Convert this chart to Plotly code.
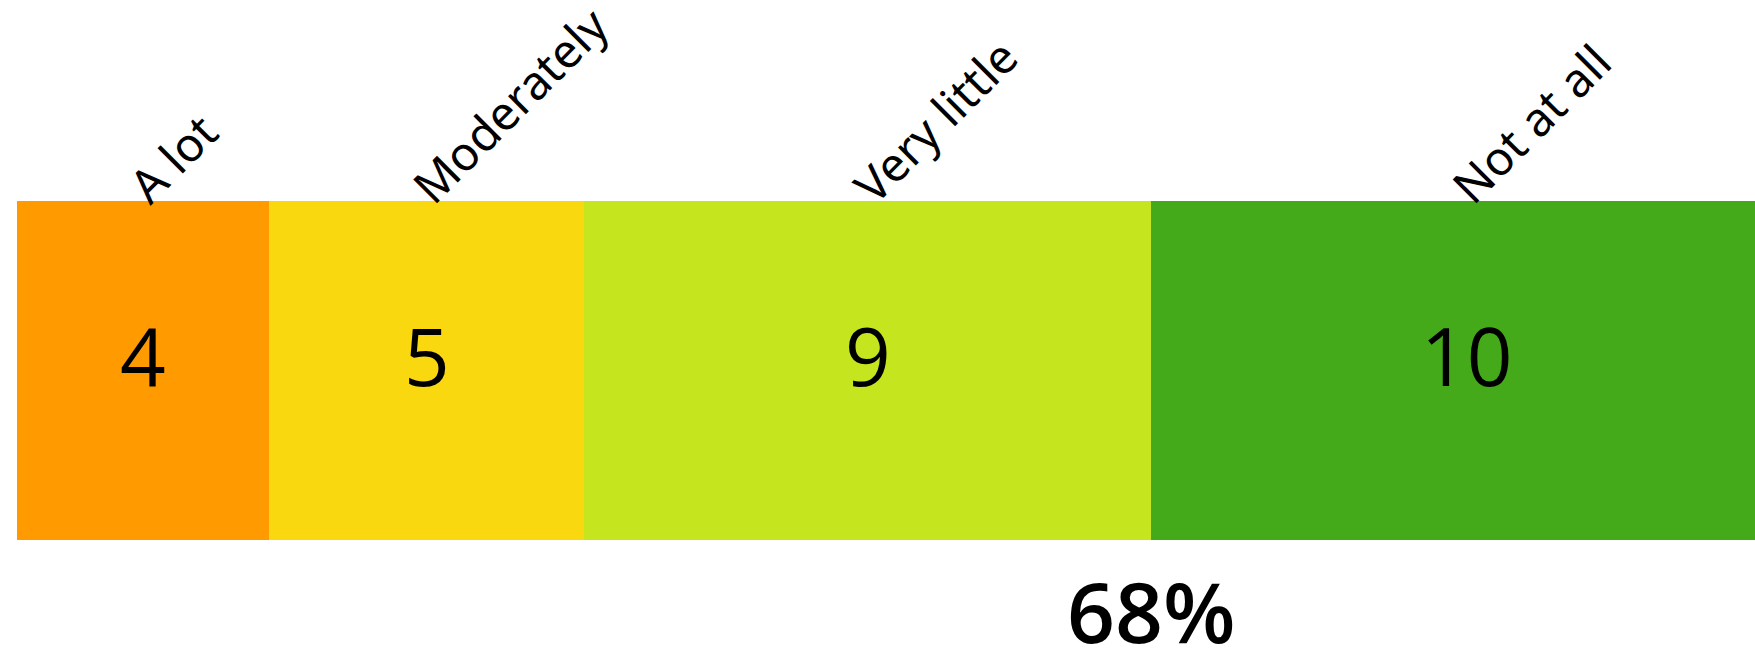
import plotly.graph_objects as go

# Survey answers and counts per answer
categories = ["A lot", "Moderately", "Very little", "Not at all"]
counts = [4, 5, 9, 10]
colors = ["#FF9A00", "#F9D80F", "#C5E61E", "#45AA19"]

total = sum(counts)
low_share = round(100 * (counts[2] + counts[3]) / total)

W, H = 1755, 655
unit_px = 63.0
left_px = 17.0

fig = go.Figure()
starts = []
acc = 0
for cat, val, col in zip(categories, counts, colors):
    starts.append(acc)
    fig.add_trace(go.Bar(
        y=[0], x=[val], base=[acc], orientation="h", width=1.0,
        marker=dict(color=col, line=dict(width=0)),
        name=cat, showlegend=False, hoverinfo="skip",
    ))
    acc += val

annotations = []
for cat, val, s in zip(categories, counts, starts):
    mid = s + val / 2
    # count inside each segment
    annotations.append(dict(
        x=mid, y=0.5, xref="x", yref="paper", text=str(val),
        showarrow=False, xanchor="center", yanchor="middle", yshift=16,
        font=dict(family="Open Sans", size=80, color="#000000", weight=500),
    ))
    # rotated answer label above the segment
    annotations.append(dict(
        x=mid, y=1, xref="x", yref="paper", text=cat,
        showarrow=False, xanchor="left", yanchor="bottom", textangle=-45,
        xshift=-31, yshift=-18,
        font=dict(family="Noto Sans", size=47, color="#000000"),
    ))

annotations.append(dict(
    x=counts[0] + counts[1] + counts[2], y=0, xref="x", yref="paper",
    text=f"{low_share}%", showarrow=False, xanchor="center", yanchor="middle",
    yshift=-70,
    font=dict(family="Open Sans", size=84, color="#000000", weight=600),
))

fig.update_layout(
    width=W, height=H,
    margin=dict(l=0, r=0, t=201, b=115),
    paper_bgcolor="white", plot_bgcolor="white",
    barmode="overlay",
    xaxis=dict(range=[-left_px / unit_px, (W - left_px) / unit_px],
               visible=False, fixedrange=True),
    yaxis=dict(range=[-0.5, 0.5], visible=False, fixedrange=True),
    annotations=annotations,
)

fig.write_html("out.html")
